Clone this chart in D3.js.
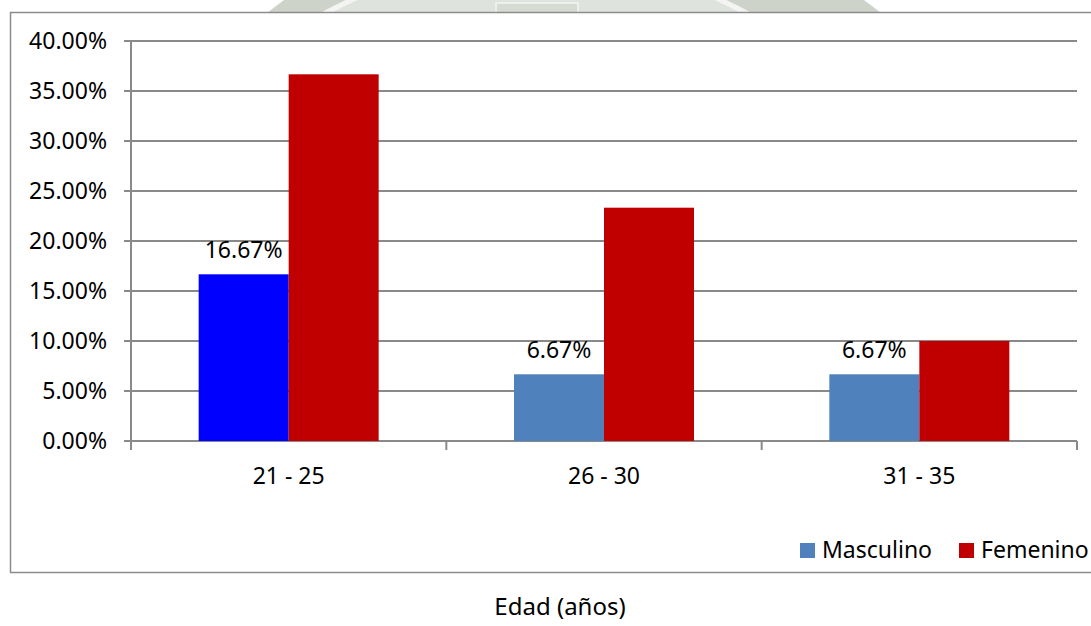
<!DOCTYPE html>
<html>
<head>
<meta charset="utf-8">
<script src="https://cdn.jsdelivr.net/npm/d3@7"></script>
<style>
  body { margin: 0; background: #fff; }
  text { font-family: "Noto Sans", sans-serif; fill: #000; }
</style>
</head>
<body>
<div id="chart"></div>
<script>
const categories = ["21 - 25", "26 - 30", "31 - 35"]
const series = ["Masculino", "Femenino"]
const masculino = [16.67, 6.67, 6.67]
const femenino = [36.67, 23.33, 10.00]
const yTicks = [0, 5, 10, 15, 20, 25, 30, 35, 40]

const W = 1091
const H = 626
const PLOT = { LEFT: 131, RIGHT: 1077, TOP: 41, BOTTOM: 441 }
const FONT = 23
const GRID = "#898989"

const svg = d3.select("#chart")
              .append("svg")
              .attr("width", W)
              .attr("height", H)

// faint watermark, only visible above the frame
svg.append("clipPath")
   .attr("id", "wm")
   .append("rect")
   .attr("x", 0).attr("y", 0).attr("width", W).attr("height", 13)
const wm = svg.append("g").attr("clip-path", "url(#wm)")
wm.append("circle")
  .attr("cx", 574).attr("cy", 400).attr("r", 494)
  .attr("fill", "#cdd3c9")
wm.append("circle")
  .attr("cx", 536).attr("cy", 400).attr("r", 443)
  .attr("fill", "#f4f5f3")
wm.append("circle")
  .attr("cx", 536).attr("cy", 400).attr("r", 438)
  .attr("fill", "#dfe3de")
wm.append("rect")
  .attr("x", 496).attr("y", 3).attr("width", 82).attr("height", 14)
  .attr("fill", "#d6dbd4").attr("stroke", "#eef0ed").attr("stroke-width", 2)

// chart frame
svg.append("rect")
   .attr("x", 10.5).attr("y", 12.5)
   .attr("width", 1100).attr("height", 560)
   .attr("fill", "#fff")
   .attr("stroke", "#8c8c8c")
   .attr("stroke-width", 1.5)

const x0 = d3.scaleBand()
             .domain(categories)
             .range([PLOT.LEFT, PLOT.RIGHT])
const x1 = d3.scaleBand()
             .domain(series)
             .range([0, 180])
const groupOffset = (x0.bandwidth() - 180) / 2

const y = d3.scaleLinear()
            .domain([0, 40])
            .range([PLOT.BOTTOM, PLOT.TOP])

// gridlines
svg.append("g")
   .selectAll("line")
   .data(yTicks)
   .join("line")
   .attr("x1", PLOT.LEFT - 7)
   .attr("x2", PLOT.RIGHT)
   .attr("y1", d => y(d))
   .attr("y2", d => y(d))
   .attr("stroke", GRID)
   .attr("stroke-width", 2)

// y axis labels
svg.append("g")
   .selectAll("text")
   .data(yTicks)
   .join("text")
   .attr("x", 107)
   .attr("y", d => y(d))
   .attr("dy", "0.36em")
   .attr("text-anchor", "end")
   .style("font-size", FONT + "px")
   .text(d => d.toFixed(2) + "%")

// axis lines
svg.append("line")
   .attr("x1", PLOT.LEFT).attr("x2", PLOT.LEFT)
   .attr("y1", PLOT.TOP).attr("y2", PLOT.BOTTOM + 9)
   .attr("stroke", GRID).attr("stroke-width", 2)

svg.append("g")
   .selectAll("line")
   .data(categories.slice(1).concat(["end"]))
   .join("line")
   .attr("x1", (d, i) => PLOT.LEFT + (i + 1) * x0.step())
   .attr("x2", (d, i) => PLOT.LEFT + (i + 1) * x0.step())
   .attr("y1", PLOT.BOTTOM)
   .attr("y2", PLOT.BOTTOM + 9)
   .attr("stroke", GRID).attr("stroke-width", 2)

// bars
const rows = categories.map((c, i) => ({ cat: c, i, Masculino: masculino[i], Femenino: femenino[i] }))
const mascColor = (i) => i === 0 ? "#0000ff" : "#4f81bd"

const groups = svg.append("g")
                  .selectAll("g")
                  .data(rows)
                  .join("g")
                  .attr("transform", d => `translate(${x0(d.cat) + groupOffset}, 0)`)

groups.selectAll("rect")
      .data(d => series.map(s => ({ s, v: d[s], i: d.i })))
      .join("rect")
      .attr("x", d => x1(d.s))
      .attr("y", d => y(d.v))
      .attr("width", x1.bandwidth())
      .attr("height", d => y(0) - y(d.v))
      .attr("fill", d => d.s === "Masculino" ? mascColor(d.i) : "#c00000")

// data labels (Masculino only)
groups.append("text")
      .attr("x", x1("Masculino") + x1.bandwidth() / 2)
      .attr("y", d => y(d.Masculino) - 16)
      .attr("text-anchor", "middle")
      .style("font-size", FONT + "px")
      .text(d => d.Masculino.toFixed(2) + "%")

// category labels
svg.append("g")
   .selectAll("text")
   .data(categories)
   .join("text")
   .attr("x", d => x0(d) + x0.bandwidth() / 2)
   .attr("y", 484)
   .attr("text-anchor", "middle")
   .style("font-size", FONT + "px")
   .text(d => d)

// legend
const legendItems = [
  { label: "Masculino", color: "#4f81bd", x: 800 },
  { label: "Femenino", color: "#c00000", x: 959 },
]
const legend = svg.append("g")
                  .selectAll("g")
                  .data(legendItems)
                  .join("g")
legend.append("rect")
      .attr("x", d => d.x)
      .attr("y", 543)
      .attr("width", 15)
      .attr("height", 15)
      .attr("fill", d => d.color)
legend.append("text")
      .attr("x", d => d.x + 22)
      .attr("y", 558)
      .style("font-size", FONT + "px")
      .text(d => d.label)

// x axis title
svg.append("text")
   .attr("x", 560)
   .attr("y", 615)
   .attr("text-anchor", "middle")
   .style("font-size", (FONT + 1) + "px")
   .text("Edad (años)")
</script>
</body>
</html>
